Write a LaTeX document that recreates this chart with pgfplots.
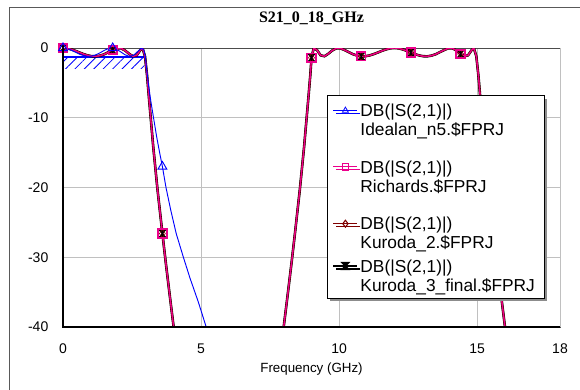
\documentclass[border=0pt]{standalone}
\usepackage{fontspec}
\setmainfont{Liberation Sans}
\newfontfamily\timesfont{Liberation Serif}
\usepackage{pgfplots}
\pgfplotsset{compat=1.18}
\usepackage{pgfplotstable}
\usetikzlibrary{patterns.meta,shadows}
\definecolor{gridgray}{RGB}{192,192,192}
\definecolor{kdarkred}{RGB}{128,0,0}
\pgfdeclareplotmark{hourglass}{%
 \pgfpathmoveto{\pgfqpoint{-\pgfplotmarksize}{\pgfplotmarksize}}%
 \pgfpathlineto{\pgfqpoint{\pgfplotmarksize}{\pgfplotmarksize}}%
 \pgfpathlineto{\pgfqpoint{-\pgfplotmarksize}{-\pgfplotmarksize}}%
 \pgfpathlineto{\pgfqpoint{\pgfplotmarksize}{-\pgfplotmarksize}}%
 \pgfpathclose
 \pgfusepathqfillstroke}

\pgfplotstableread{
f db
0 0
0.15 -0.08
0.3 -0.31
0.45 -0.60
0.6 -0.89
0.75 -1.10
0.9 -1.20
1.05 -1.15
1.2 -0.96
1.35 -0.67
1.5 -0.33
1.65 -0.07
1.8 -0.01
1.95 -0.20
2.1 -0.58
2.25 -0.98
2.4 -1.19
2.55 -1.06
2.7 -0.52
2.85 0
2.925 -0.26
2.98 -1.2
3.03 -3.1
3.1 -5.4
3.18 -7.6
3.27 -9.8
3.4 -12.9
3.5 -15.0
3.6 -17.0
3.73 -20.0
3.9 -23.2
4.1 -26.6
4.36 -30.0
4.6 -33.0
4.9 -36.4
5.17 -39.8
5.35 -41.6
}\ideal

\pgfplotstableread{
f db
0 0
0.15 -0.05
0.3 -0.20
0.45 -0.41
0.6 -0.65
0.75 -0.88
0.9 -1.07
1.05 -1.18
1.2 -1.19
1.35 -1.09
1.5 -0.89
1.65 -0.59
1.8 -0.30
1.95 -0.05
2.1 -0.04
2.25 -0.36
2.4 -0.85
2.53 -1.18
2.67 -1.05
2.8 -0.30
2.88 -0.02
2.97 -1.2
3.045 -3.96
3.12 -7.47
3.27 -14.24
3.42 -20.2
3.6 -26.6
3.72 -30.7
3.87 -35.6
4.02 -40.4
4.17 -45.3
7.83 -45.3
7.98 -40.4
8.13 -35.6
8.28 -30.7
8.4 -26.6
8.58 -20.2
8.73 -14.24
8.88 -7.47
8.955 -3.96
9.0 -1.4
9.08 -0.02
9.2 -0.30
9.33 -1.05
9.47 -1.18
9.6 -0.85
9.75 -0.36
9.9 -0.04
10.05 -0.05
10.2 -0.30
10.35 -0.59
10.5 -0.89
10.65 -1.09
10.8 -1.19
10.95 -1.18
11.1 -1.07
11.25 -0.88
11.4 -0.65
11.55 -0.41
11.7 -0.20
11.85 -0.05
12.0 0
12.15 -0.05
12.3 -0.20
12.45 -0.41
12.6 -0.65
12.75 -0.88
12.9 -1.07
13.05 -1.18
13.2 -1.19
13.35 -1.09
13.5 -0.89
13.65 -0.59
13.8 -0.30
13.95 -0.05
14.1 -0.04
14.25 -0.36
14.4 -0.85
14.53 -1.18
14.67 -1.05
14.8 -0.30
14.88 -0.02
14.97 -1.2
15.045 -3.96
15.12 -7.47
15.27 -14.24
15.42 -20.2
15.6 -26.6
15.72 -30.7
15.87 -35.6
16.02 -40.4
16.17 -45.3
}\richards

\pgfplotstableread{
f db
0 0
1.8 -0.01
3.6 -17.0
}\idealmarks

\pgfplotstableread{
f db
0 0
1.8 -0.30
3.6 -26.6
9.0 -1.4
10.8 -1.19
12.6 -0.65
14.4 -0.85
}\richmarks

\begin{document}
\begin{tikzpicture}
\useasboundingbox (0,0) rectangle (435pt,291.75pt);
\fill[white] (0,0) rectangle (435pt,291.75pt);
\draw[black!65, line width=0.75pt] (7.3pt,-5pt) -- (7.3pt,286pt) -- (445pt,286pt);
\begin{axis}[
 name=ax,
 at={(47.25pt,46.5pt)}, anchor=south west,
 scale only axis, width=372.75pt, height=209.25pt,
 xmin=0, xmax=18, ymin=-40, ymax=0,
 xtick={0,5,10,15,18}, ytick={-40,-30,-20,-10,0},
 grid=major, major grid style={gridgray, line width=0.75pt},
 major tick length=0pt,
 axis line style={black!70, line width=0.75pt},
 /pgf/number format/assume math mode=true,
 tick label style={font=\fontsize{10.5}{12}\selectfont},
 xticklabel style={yshift=-9pt},
 yticklabel style={xshift=-7.5pt},
 xlabel={Frequency (GHz)},
 xlabel style={at={(axis description cs:0.5,0)}, anchor=base, yshift=-33.75pt, font=\fontsize{10}{12}\selectfont},
 title={S21\_0\_18\_GHz},
 title style={at={(axis description cs:0.5,1)}, anchor=base, yshift=12.75pt, font=\timesfont\bfseries\fontsize{12}{14}\selectfont},
 legend cell align=left,
 legend style={at={(0.531,0.8315)}, anchor=north west, draw=black, line width=0.75pt, fill=white,
   drop shadow={shadow xshift=2.25pt, shadow yshift=-2.25pt, fill=black!45, opacity=1},
   inner xsep=4pt, inner ysep=1pt, font=\fontsize{13}{14.25}\selectfont,
   nodes={inner sep=0pt, text depth=}, cells={anchor=base west}, row sep=0pt,
   /tikz/every odd column/.append style={column sep=1.8pt}},
 legend image code/.code={\draw[mark repeat=2, mark phase=2, #1] plot coordinates {(0pt,4.6pt) (9pt,4.6pt) (18pt,4.6pt)};},
]
\addlegendimage{blue, line width=0.6pt, mark=triangle, mark options={solid, fill=white, mark size=2.6pt}}
\addlegendentry{\begin{tabular}[t]{@{}l@{\hspace{3pt}}}\rule{0pt}{14.9pt}DB(|S(2,1)|)\\Idealan\_n5.\$FPRJ\rule[-18pt]{0pt}{0pt}\end{tabular}}
\addlegendimage{magenta, line width=0.6pt, mark=square, mark options={solid, fill=white, mark size=2.6pt}}
\addlegendentry{\begin{tabular}[t]{@{}l@{\hspace{3pt}}}DB(|S(2,1)|)\\Richards.\$FPRJ\rule[-18.4pt]{0pt}{0pt}\end{tabular}}
\addlegendimage{kdarkred, line width=0.8pt, mark=diamond, mark options={solid, fill=white, mark size=2.6pt}}
\addlegendentry{\begin{tabular}[t]{@{}l@{\hspace{3pt}}}DB(|S(2,1)|)\\Kuroda\_2.\$FPRJ\rule[-7.5pt]{0pt}{0pt}\end{tabular}}
\addlegendimage{black, line width=1pt, mark=hourglass, mark options={solid, fill=black, mark size=2.6pt}}
\addlegendentry{\begin{tabular}[t]{@{}l@{\hspace{3pt}}}DB(|S(2,1)|)\\Kuroda\_3\_final.\$FPRJ\end{tabular}}

\addplot[draw=none, pattern={Lines[angle=45,distance=5pt,line width=0.6pt]}, pattern color=blue, forget plot]
  coordinates {(0,-1.3) (2.95,-1.3) (2.95,-3.0) (0,-3.0)} -- cycle;
\addplot[blue, line width=0.9pt, forget plot] coordinates {(0,-1.3) (2.95,-1.3)};

\addplot[black, line width=1.9pt, forget plot] table[x=f,y=db] {\richards};
\addplot[kdarkred, line width=1.4pt, forget plot] table[x=f,y=db] {\richards};
\addplot[magenta, line width=1.0pt, forget plot] table[x=f,y=db] {\richards};
\addplot[blue, line width=0.7pt, forget plot] table[x=f,y=db] {\ideal};

\addplot[only marks, mark=hourglass, mark size=2.6pt, mark options={black, fill=black}, forget plot] table[x=f,y=db] {\richmarks};
\addplot[only marks, mark=diamond, mark size=3pt, mark options={kdarkred, fill=kdarkred}, forget plot] table[x=f,y=db] {\richmarks};
\addplot[only marks, mark=square, mark size=3.2pt, mark options={magenta, line width=1.3pt}, forget plot] table[x=f,y=db] {\richmarks};
\addplot[only marks, mark=triangle, mark size=3.8pt, mark options={blue, line width=0.7pt}, forget plot] table[x=f,y=db] {\idealmarks};
\end{axis}
\draw[gridgray, line width=0.75pt] (ax.south east) -- (ax.north east);
\draw[black, line width=1.1pt] (ax.north west) -- (ax.south west) -- (ax.south east);
\end{tikzpicture}
\end{document}
